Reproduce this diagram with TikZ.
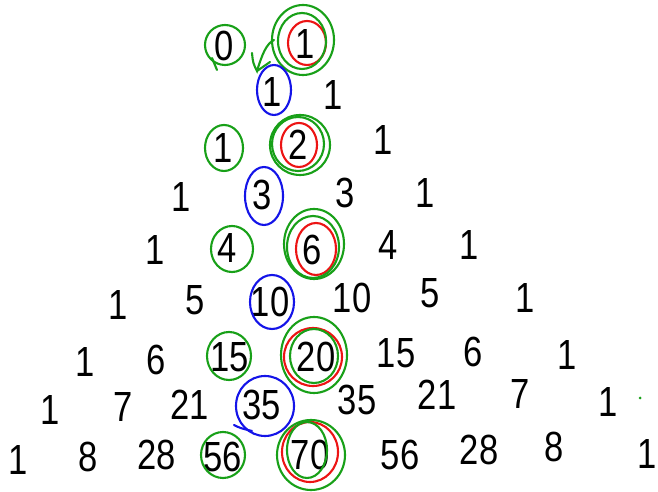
\documentclass[tikz,border=0pt]{standalone}
\usepackage{fontspec}
\setmainfont{Liberation Sans}
\usetikzlibrary{calc}
\definecolor{ringgreen}{RGB}{24,160,24}
\definecolor{ringred}{RGB}{236,20,20}
\definecolor{ringblue}{RGB}{20,20,232}

\begin{document}
\begin{tikzpicture}[
  x=0.02cm, y=-0.02cm,
  num/.style={inner sep=0pt, xscale=0.82, font=\fontsize{24}{26}\selectfont},   % one entry of the triangle
  gring/.style={draw=ringgreen, line width=1.2pt, line cap=round},  % green loop
  rring/.style={draw=ringred, line width=1.2pt},                    % red loop
  bring/.style={draw=ringblue, line width=1.2pt, line cap=round},   % blue loop
]
\useasboundingbox (0,0) rectangle (658,492);

% ---- Entries, row by row ----
\node[num] (p00) at (224,46) {0};  \node[num] (p01) at (305,44) {1};

\node[num] (p10) at (272,92) {1};  \node[num] (p11) at (333,95) {1};

\node[num] (p20) at (223,148) {1}; \node[num] (p21) at (298,145) {2};
\node[num] (p22) at (383,140) {1};

\node[num] (p30) at (181,197) {1}; \node[num] (p31) at (262,195) {3};
\node[num] (p32) at (345,193) {3}; \node[num] (p33) at (425,193) {1};

\node[num] (p40) at (155,250) {1}; \node[num] (p41) at (227,248) {4};
\node[num] (p42) at (312,250) {6}; \node[num] (p43) at (388,245) {4};
\node[num] (p44) at (469,245) {1};

\node[num] (p50) at (118,305) {1}; \node[num] (p51) at (195,300) {5};
\node[num] (p52) at (270,302) {10};\node[num] (p53) at (352,298) {10};
\node[num] (p54) at (430,293) {5}; \node[num] (p55) at (525,298) {1};

\node[num] (p60) at (85,362) {1};  \node[num] (p61) at (156,360) {6};
\node[num] (p62) at (230,357) {15};\node[num] (p63) at (316,357) {20};
\node[num] (p64) at (396,353) {15};\node[num] (p65) at (473,352) {6};
\node[num] (p66) at (567,355) {1};

\node[num] (p70) at (50,410) {1};  \node[num] (p71) at (123,407) {7};
\node[num] (p72) at (190,405) {21};\node[num] (p73) at (262,405) {35};
\node[num] (p74) at (357,400) {35};\node[num] (p75) at (437,395) {21};
\node[num] (p76) at (520,394) {7}; \node[num] (p77) at (608,402) {1};

\node[num] (p80) at (18,460) {1};  \node[num] (p81) at (88,457) {8};
\node[num] (p82) at (157,455) {28};\node[num] (p83) at (223,457) {56};
\node[num] (p84) at (310,455) {70};\node[num] (p85) at (400,455) {56};
\node[num] (p86) at (479,450) {28};\node[num] (p87) at (554,447) {8};
\node[num] (p88) at (647,454) {1};

% ---- Loops ----
\draw[gring] ($(p00)+(1,-1)$) ellipse [x radius=20, y radius=20];
\draw[gring] (212,58) -- (217,70);

\draw[rring] ($(p01)+(2,-1)$)  ellipse [x radius=19, y radius=22];
\draw[gring] ($(p01)+(-3,-3)$) ellipse [x radius=24, y radius=28];
\draw[gring] ($(p01)+(-2,-4)$) ellipse [x radius=31, y radius=35];

% hook from the top 1 down to the blue loop
\coordinate (hooktip) at (257,71);
\draw[gring] (252,53) .. controls (253,63) .. (hooktip)
  .. controls (262,55) and (266,44) .. (274,40);
\draw[gring] (hooktip) -- (270,62);

\draw[bring] ($(p10)+(2,-2)$) ellipse [x radius=17, y radius=25];

\draw[gring] ($(p20)+(1,0)$) ellipse [x radius=19, y radius=23];
\draw[rring] ($(p21)+(1,0)$) ellipse [x radius=18, y radius=22];
\draw[gring] ($(p21)+(0,-1)$) ellipse [x radius=26, y radius=27];
\draw[gring] ($(p21)+(2,0)$)  ellipse [x radius=30, y radius=30];

\draw[bring] ($(p31)+(2,1)$) ellipse [x radius=19, y radius=29];

\draw[gring] ($(p41)+(5,1)$) ellipse [x radius=21, y radius=23];
\draw[rring] ($(p42)+(4,-1)$) ellipse [x radius=20, y radius=26];
\draw[gring] ($(p42)+(1,-3)$) ellipse [x radius=26, y radius=31];
\draw[gring] ($(p42)+(2,-6)$) ellipse [x radius=30, y radius=35];

\draw[bring] ($(p52)+(2,0)$) ellipse [x radius=22, y radius=27];

\draw[gring] ($(p62)+(-1,-1)$) ellipse [x radius=22, y radius=24];
\draw[rring] ($(p63)+(-3,0)$)  ellipse [x radius=29, y radius=29];
\draw[gring] ($(p63)+(-2,-1)$) ellipse [x radius=24, y radius=27];
\draw[gring] ($(p63)+(-2,-2)$) ellipse [x radius=33, y radius=38];

\draw[bring] ($(p73)+(3,1)$) ellipse [x radius=29, y radius=30];
\draw[bring] (234,425) .. controls (240,428) .. (252,431);

\draw[gring] ($(p83)+(0,-2)$) ellipse [x radius=22, y radius=23];
\draw[rring] ($(p84)+(0,-3)$) ellipse [x radius=28, y radius=30];
\draw[gring] ($(p84)+(-3,-5)$) ellipse [x radius=20, y radius=28];
\draw[gring] ($(p84)+(1,0)$)  ellipse [x radius=34, y radius=35];

% stray dot
\fill[ringgreen] (640,398) circle [radius=1.5];

\end{tikzpicture}
\end{document}
